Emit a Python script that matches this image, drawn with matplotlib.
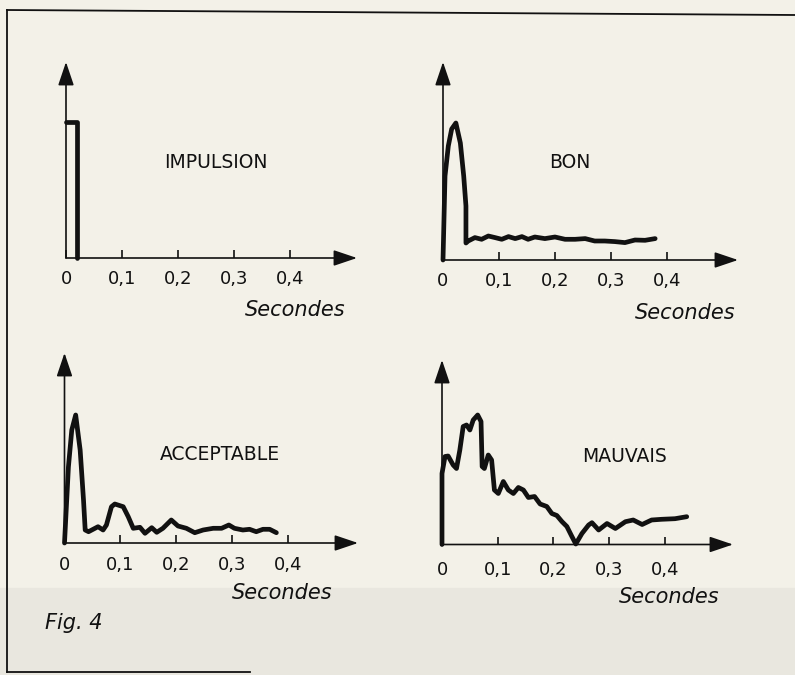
import matplotlib
matplotlib.use("Agg")
import matplotlib.pyplot as plt

W, H = 795, 675
INK = "#111111"
PAPER = "#f3f1e8"

# time axis (s) and tick labels
ticks = [0, 0.1, 0.2, 0.3, 0.4]
tick_labels = ["0", "0,1", "0,2", "0,3", "0,4"]

# impulse test signal
imp_t = [0.0, 0.020, 0.020]
imp_a = [13.6, 13.6, 0.0]

# good response
bon_t = [0.0, 0.0036, 0.0095, 0.0155, 0.023, 0.031, 0.037, 0.041, 0.041,
         0.045, 0.057, 0.069, 0.081, 0.093, 0.105, 0.117, 0.129, 0.141,
         0.152, 0.164, 0.182, 0.200, 0.218, 0.236, 0.254, 0.271, 0.289,
         0.307, 0.325, 0.343, 0.361, 0.379]
bon_a = [0.0, 8.4, 11.4, 13.1, 13.7, 11.7, 8.4, 5.4, 1.7,
         1.9, 2.24, 2.07, 2.4, 2.24, 2.07, 2.34, 2.14, 2.34,
         2.07, 2.3, 2.14, 2.3, 2.07, 2.07, 2.14, 1.9, 1.9,
         1.84, 1.74, 2.0, 1.97, 2.14]

# acceptable response
acc_t = [0.0, 0.007, 0.013, 0.020, 0.028, 0.034, 0.037, 0.043, 0.060,
         0.069, 0.075, 0.084, 0.090, 0.105, 0.114, 0.123, 0.135, 0.144,
         0.156, 0.165, 0.176, 0.191, 0.203, 0.218, 0.233, 0.248, 0.266,
         0.281, 0.294, 0.304, 0.319, 0.331, 0.343, 0.355, 0.367, 0.379]
acc_a = [0.0, 7.6, 11.3, 12.8, 9.3, 4.3, 1.3, 1.13, 1.63,
         1.3, 1.8, 3.63, 3.9, 3.63, 2.63, 1.47, 1.57, 0.97,
         1.53, 1.07, 1.47, 2.3, 1.7, 1.47, 1.03, 1.3, 1.47,
         1.47, 1.8, 1.47, 1.3, 1.37, 1.13, 1.37, 1.37, 1.03]

# bad response
mau_t = [0.0, 0.0, 0.0054, 0.011, 0.020, 0.026, 0.032, 0.038, 0.044,
         0.050, 0.056, 0.064, 0.070, 0.072, 0.076, 0.083, 0.089, 0.094,
         0.101, 0.110, 0.119, 0.128, 0.137, 0.146, 0.155, 0.166, 0.176,
         0.188, 0.197, 0.206, 0.215, 0.224, 0.233, 0.240, 0.251, 0.263,
         0.269, 0.281, 0.296, 0.311, 0.329, 0.343, 0.359, 0.376, 0.394,
         0.418, 0.439]
mau_a = [0.0, 7.1, 8.8, 8.85, 7.95, 7.6, 9.45, 11.8, 11.95,
         11.45, 12.45, 12.95, 12.3, 7.8, 7.6, 8.95, 8.45, 5.45,
         5.1, 6.3, 5.45, 5.1, 5.7, 5.45, 4.7, 4.8, 4.05,
         3.8, 3.1, 2.9, 2.3, 1.8, 0.8, 0.05, 1.1, 1.95,
         2.18, 1.45, 2.1, 1.6, 2.28, 2.45, 2.0, 2.45, 2.52,
         2.58, 2.78]

fig = plt.figure(figsize=(W / 100, H / 100), dpi=100)
fig.patch.set_facecolor(PAPER)

# greyer page area under the frame
fig.patches.append(plt.Rectangle((0, 0), 1, 1 - 588 / H, transform=fig.transFigure,
                                 color="#e9e7df", zorder=0))

# frame of the figure
frame = dict(color=INK, lw=1.3, transform=fig.transFigure)
fig.lines.append(plt.Line2D([7 / W, 1], [1 - 10 / H, 1 - 15 / H], **frame))
fig.lines.append(plt.Line2D([7 / W, 7 / W], [1 - 10 / H, 1 - 672 / H], **frame))
fig.lines.append(plt.Line2D([7 / W, 250 / W], [1 - 672 / H, 1 - 672 / H], **frame))


def panel(ox, oy, xend, ytop, tmax, t, a, title, tx, ty, sx, sy, lbl_pad):
    ax = fig.add_axes([ox / W, 1 - oy / H, (xend - ox) / W, (oy - ytop) / H])
    ax.set_facecolor("none")
    ax.set_xlim(0, tmax)
    ax.set_ylim(0, (oy - ytop) / 10)
    for s in ax.spines.values():
        s.set_visible(False)
    arrow = dict(arrowstyle="-|>,head_length=0.8,head_width=0.27", color=INK,
                 lw=1.2, mutation_scale=18, shrinkA=0, shrinkB=0)
    ax.annotate("", xy=(1, 0), xytext=(0, 0), xycoords="axes fraction",
                textcoords="axes fraction", arrowprops=arrow)
    ax.annotate("", xy=(0, 1), xytext=(0, 0), xycoords="axes fraction",
                textcoords="axes fraction", arrowprops=arrow)
    ax.set_xticks(ticks)
    ax.set_xticklabels(tick_labels)
    ax.set_yticks([])
    ax.tick_params(axis="x", direction="in", length=6, width=1.2, color=INK,
                   pad=lbl_pad, labelsize=13, labelcolor=INK)
    ax.plot(t, a, color=INK, lw=3.4, solid_joinstyle="round",
            solid_capstyle="round", clip_on=False)
    fig.text(tx / W, 1 - ty / H, title, ha="center", va="center",
             fontsize=13.5, color=INK)
    fig.text(sx / W, 1 - sy / H, "Secondes", ha="center", va="center",
             fontsize=15, style="italic", color=INK)
    return ax


panel(66, 258, 357, 62, 0.52, imp_t, imp_a, "IMPULSION", 216, 162, 295, 310, 9)
panel(443, 260, 738, 62, 0.527, bon_t, bon_a, "BON", 570, 163, 685, 313, 9)
panel(64.5, 543, 358, 353, 0.525, acc_t, acc_a, "ACCEPTABLE", 220, 454, 282, 593, 9)
panel(442, 544.5, 733, 360, 0.522, mau_t, mau_a, "MAUVAIS", 625, 457, 669, 597, 12)

fig.text(74 / W, 1 - 623 / H, "Fig. 4", ha="center", va="center",
         fontsize=15, style="italic", color=INK)

fig.savefig("out.png", dpi=100, facecolor=fig.get_facecolor())
